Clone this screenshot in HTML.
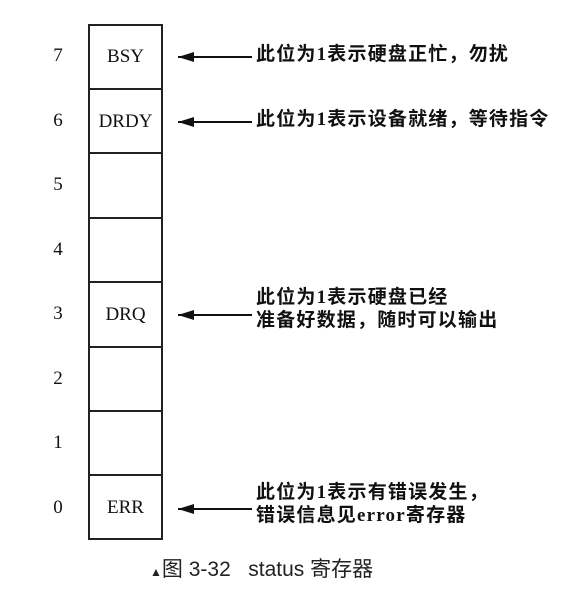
<!DOCTYPE html>
<html><head><meta charset="utf-8"><style>
body{margin:0;background:#fff;width:583px;height:593px;position:relative;overflow:hidden;font-family:"Liberation Serif","Noto Serif CJK SC",serif;color:#111}
.box{position:absolute;left:88px;width:73px;border:2px solid #222;box-sizing:border-box}
.cell{position:absolute;left:88px;width:75px;height:64px;display:flex;align-items:center;justify-content:center;font-size:19px}
.num{position:absolute;left:51px;width:14px;text-align:center;font-size:19px}
.arr{position:absolute;left:178px;width:74px;height:2px;background:#111}
.arr:before{content:"";position:absolute;left:0;top:-4px;border-right:16px solid #111;border-top:5px solid transparent;border-bottom:5px solid transparent}
.t{position:absolute;left:256px;font-family:"Liberation Serif","Noto Sans CJK SC",sans-serif;font-weight:bold;font-size:19px;letter-spacing:1.2px;line-height:23px;white-space:nowrap}
.h{position:absolute;left:88px;width:75px;height:2px;background:#222}
</style></head><body>
<div class="box" style="top:24px;height:516px;width:75px"></div>
<div class="h" style="top:88px"></div><div class="h" style="top:152px"></div><div class="h" style="top:217px"></div><div class="h" style="top:281px"></div><div class="h" style="top:346px"></div><div class="h" style="top:410px"></div><div class="h" style="top:474px"></div>
<div class="cell" style="top:25px">BSY</div>
<div class="cell" style="top:90px">DRDY</div>
<div class="cell" style="top:283px">DRQ</div>
<div class="cell" style="top:476px">ERR</div>
<div class="num" style="top:45px">7</div>
<div class="num" style="top:110px">6</div>
<div class="num" style="top:174px">5</div>
<div class="num" style="top:239px">4</div>
<div class="num" style="top:303px">3</div>
<div class="num" style="top:368px">2</div>
<div class="num" style="top:432px">1</div>
<div class="num" style="top:497px">0</div>
<div class="arr" style="top:56px"></div>
<div class="arr" style="top:121px"></div>
<div class="arr" style="top:314px"></div>
<div class="arr" style="top:508px"></div>
<div class="t" style="top:43px">此位为1表示硬盘正忙，勿扰</div>
<div class="t" style="top:108px">此位为1表示设备就绪，等待指令</div>
<div class="t" style="top:286px">此位为1表示硬盘已经<br>准备好数据，随时可以输出</div>
<div class="t" style="top:481px">此位为1表示有错误发生，<br>错误信息见error寄存器</div>
<div style="position:absolute;left:150px;top:553px;font-family:'Liberation Sans','Noto Sans CJK SC',sans-serif;font-size:21px;color:#222;white-space:nowrap"><span style="font-size:12px">▲</span>图 3-32&nbsp;&nbsp;&nbsp;status 寄存器</div>
</body></html>
